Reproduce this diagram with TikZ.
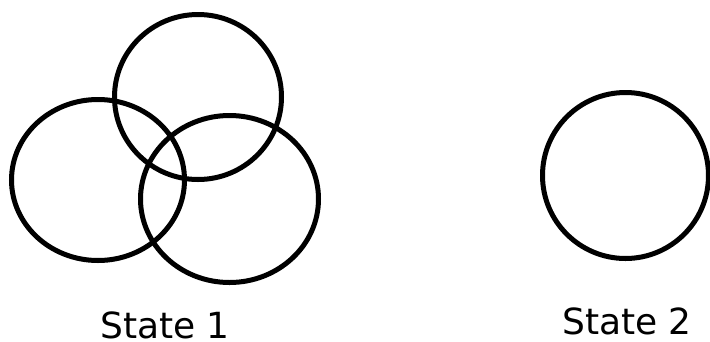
\documentclass[tikz,border=0pt]{standalone}
\usepackage{fontspec}
\setmainfont{DejaVu Sans}
\begin{document}
\begin{tikzpicture}[x=1pt,y=-1pt,
  ring/.style={draw=black,line width=5pt},
  lbl/.style={font=\fontsize{36}{40}\selectfont,anchor=base,inner sep=0pt}]
\useasboundingbox (0,0) rectangle (710,341);
\draw[ring] (98,180) ellipse [x radius=86.5, y radius=80.5];
\draw[ring] (198,97) ellipse [x radius=83.5, y radius=82.5];
\draw[ring] (229.5,199) ellipse [x radius=89, y radius=83.5];
\draw[ring] (625.5,175.5) ellipse [x radius=83, y radius=83];
\node[lbl] (s1) at (165,338) {State 1};
\node[lbl] (s2) at (627,334.5) {State 2};
\end{tikzpicture}
\end{document}
